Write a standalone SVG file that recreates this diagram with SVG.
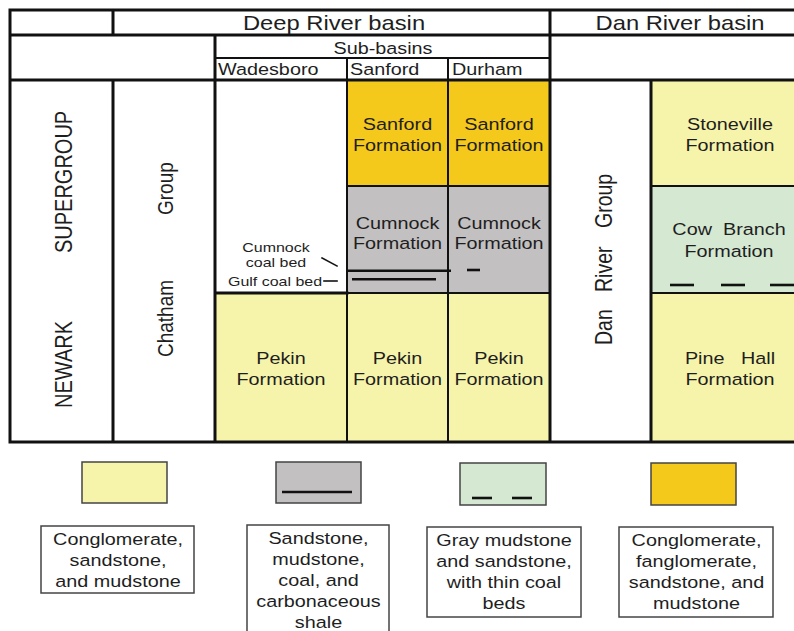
<svg xmlns="http://www.w3.org/2000/svg" width="794" height="631" viewBox="0 0 794 631">
<style>
.t{font-family:"Liberation Sans",Arial,sans-serif;fill:#1e1e1e;text-anchor:middle}
.s{text-anchor:start}
.f{font-size:16.5px}
.h{font-size:19.8px}
.sm{font-size:13.3px}
.k{stroke:#111;fill:none;stroke-linecap:square}
.w3{stroke-width:3}
.w2{stroke-width:2}
.coal{stroke:#111;stroke-width:2.6}
.leg{fill:#fff;stroke:#444;stroke-width:1.5}
.yl{fill:#f6f4aa}
.or{fill:#f5c81c}
.gr{fill:#c3c0c1}
.gn{fill:#d5e8d2}
</style>
<rect width="794" height="631" fill="#fff"/>

<g id="fills">
<rect class="or" x="347" y="80" width="203" height="106"/>
<rect class="gr" x="347" y="186" width="203" height="107"/>
<rect class="yl" x="215" y="293" width="335" height="149"/>
<rect class="yl" x="651" y="80" width="143" height="106"/>
<rect class="gn" x="651" y="186" width="143" height="107"/>
<rect class="yl" x="651" y="293" width="143" height="149"/>
</g>

<g id="grid">
<path class="k w3" d="M10 10H794M10 35H794M10 80H794M10 442H794M10 10V442M113 10V35M113 80V442M215 35V442M550 10V442M651 80V442M215 293H347"/>
<path class="k w2" d="M215 58H550M347 58V442M448 58V442M347 186H550M651 186H794M347 293H550M651 293H794"/>
</g>

<g id="header">
<text class="t h" transform="translate(334 0) scale(1.2 1)" y="30.5">Deep River basin</text>
<text class="t h" transform="translate(680 0) scale(1.2 1)" y="30.5">Dan River basin</text>
<text class="t f" transform="translate(383 0) scale(1.2 1)" y="54.5">Sub-basins</text>
<text class="t s f" transform="translate(218 0) scale(1.2 1)" y="75">Wadesboro</text>
<text class="t s f" transform="translate(350 0) scale(1.2 1)" y="75">Sanford</text>
<text class="t s f" transform="translate(452 0) scale(1.2 1)" y="75">Durham</text>
</g>

<g id="newark-supergroup">
<text class="t s" font-size="20" transform="translate(72 260) rotate(-90) scale(1 1.2)"><tspan x="-148" y="0">NEWARK</tspan><tspan x="7" y="0">SUPERGROUP</tspan></text>
</g>
<g id="chatham-group">
<text class="t s" font-size="19" transform="translate(173 260) rotate(-90) scale(1 1.2)"><tspan x="-97" y="0">Chatham</tspan><tspan x="45" y="0">Group</tspan></text>
</g>
<g id="dan-river-group">
<text class="t s" font-size="19.5" transform="translate(612 260) rotate(-90) scale(1 1.2)"><tspan x="-85" y="0">Dan</tspan><tspan x="-32" y="0">River</tspan><tspan x="32" y="0">Group</tspan></text>
</g>

<g id="sanford-fm-sanford">
<text class="t f" transform="translate(397.5 0) scale(1.2 1)"><tspan x="0" y="130">Sanford</tspan><tspan x="0" y="151">Formation</tspan></text>
</g>
<g id="sanford-fm-durham">
<text class="t f" transform="translate(499 0) scale(1.2 1)"><tspan x="0" y="130">Sanford</tspan><tspan x="0" y="151">Formation</tspan></text>
</g>
<g id="cumnock-fm-sanford">
<text class="t f" transform="translate(397.5 0) scale(1.2 1)"><tspan x="0" y="229">Cumnock</tspan><tspan x="0" y="249">Formation</tspan></text>
<line class="coal" x1="347" y1="270.7" x2="451" y2="270.7"/>
<line class="coal" x1="352" y1="279.3" x2="436" y2="279.3"/>
</g>
<g id="cumnock-fm-durham">
<text class="t f" transform="translate(499 0) scale(1.2 1)"><tspan x="0" y="229">Cumnock</tspan><tspan x="0" y="249">Formation</tspan></text>
<line class="coal" x1="467" y1="270" x2="480" y2="270"/>
</g>
<g id="pekin-fm-wadesboro">
<text class="t f" transform="translate(281 0) scale(1.2 1)"><tspan x="0" y="364">Pekin</tspan><tspan x="0" y="385">Formation</tspan></text>
</g>
<g id="pekin-fm-sanford">
<text class="t f" transform="translate(397.5 0) scale(1.2 1)"><tspan x="0" y="364">Pekin</tspan><tspan x="0" y="385">Formation</tspan></text>
</g>
<g id="pekin-fm-durham">
<text class="t f" transform="translate(499 0) scale(1.2 1)"><tspan x="0" y="364">Pekin</tspan><tspan x="0" y="385">Formation</tspan></text>
</g>
<g id="stoneville-fm">
<text class="t f" transform="translate(730 0) scale(1.2 1)"><tspan x="0" y="130">Stoneville</tspan><tspan x="0" y="151">Formation</tspan></text>
</g>
<g id="cow-branch-fm">
<text class="t f" transform="translate(729 0) scale(1.2 1)" xml:space="preserve"><tspan x="0" y="235">Cow  Branch</tspan><tspan x="0" y="257">Formation</tspan></text>
<line class="coal" x1="670" y1="285" x2="694" y2="285"/>
<line class="coal" x1="721" y1="285" x2="745" y2="285"/>
<line class="coal" x1="770" y1="285" x2="794" y2="285"/>
</g>
<g id="pine-hall-fm">
<text class="t f" transform="translate(730 0) scale(1.2 1)" xml:space="preserve"><tspan x="0" y="364">Pine   Hall</tspan><tspan x="0" y="385">Formation</tspan></text>
</g>

<g id="coal-bed-labels">
<text class="t sm" transform="translate(276 0) scale(1.2 1)"><tspan x="0" y="252">Cumnock</tspan><tspan x="0" y="267">coal bed</tspan></text>
<text class="t sm" transform="translate(275 0) scale(1.2 1)" y="286">Gulf coal bed</text>
</g>

<g id="connectors">
<line class="k" stroke-width="1.6" x1="322" y1="258" x2="337" y2="266"/>
<line class="k" stroke-width="1.6" x1="324" y1="281" x2="337" y2="281"/>
</g>

<g id="legend-conglomerate">
<rect class="leg yl" x="82" y="462" width="85" height="41"/>
<rect class="leg" x="41" y="526" width="153" height="67"/>
<text class="t f" transform="translate(118 0) scale(1.2 1)"><tspan x="0" y="545">Conglomerate,</tspan><tspan x="0" y="566">sandstone,</tspan><tspan x="0" y="587">and mudstone</tspan></text>
</g>
<g id="legend-sandstone-coal">
<rect class="leg gr" x="276" y="462" width="85" height="41"/>
<line class="coal" stroke-width="3" x1="282" y1="492" x2="352" y2="492"/>
<rect class="leg" x="247" y="525" width="142" height="120"/>
<text class="t f" transform="translate(318.5 0) scale(1.2 1)"><tspan x="0" y="544">Sandstone,</tspan><tspan x="0" y="565">mudstone,</tspan><tspan x="0" y="586">coal, and</tspan><tspan x="0" y="607">carbonaceous</tspan><tspan x="0" y="628">shale</tspan></text>
</g>
<g id="legend-gray-mudstone">
<rect class="leg gn" x="460" y="463" width="86" height="42"/>
<line class="coal" stroke-width="3" x1="472" y1="498" x2="492" y2="498"/>
<line class="coal" stroke-width="3" x1="512" y1="498" x2="532" y2="498"/>
<rect class="leg" x="427" y="527" width="154" height="90"/>
<text class="t f" transform="translate(504 0) scale(1.2 1)"><tspan x="0" y="546">Gray mudstone</tspan><tspan x="0" y="567">and sandstone,</tspan><tspan x="0" y="588">with thin coal</tspan><tspan x="0" y="609">beds</tspan></text>
</g>
<g id="legend-fanglomerate">
<rect class="leg or" x="651" y="463" width="85" height="42"/>
<rect class="leg" x="619" y="527" width="154" height="90"/>
<text class="t f" transform="translate(696.5 0) scale(1.2 1)"><tspan x="0" y="546">Conglomerate,</tspan><tspan x="0" y="567">fanglomerate,</tspan><tspan x="0" y="588">sandstone, and</tspan><tspan x="0" y="609">mudstone</tspan></text>
</g>
</svg>
